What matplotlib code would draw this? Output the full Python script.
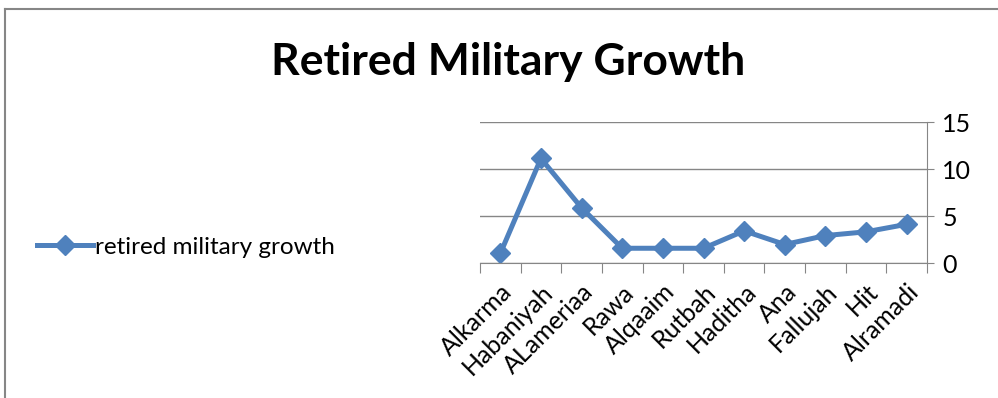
import matplotlib
matplotlib.use('Agg')
import matplotlib.pyplot as plt
from matplotlib.lines import Line2D
import numpy as np

# data
towns = ["Alkarma", "Habaniyah", "ALameriaa", "Rawa", "Alqaaim", "Rutbah",
         "Haditha", "Ana", "Fallujah", "Hit", "Alramadi"]
growth = [1.05, 11.15, 5.9, 1.6, 1.6, 1.6, 3.45, 2.0, 2.95, 3.35, 4.15]
y_ticks = [0, 5, 10, 15]

blue = "#4F81BD"
grey = "#868686"
plt.rcParams['font.family'] = ['Lato', 'DejaVu Sans']

fig = plt.figure(figsize=(9.98, 3.98), dpi=100)
ax = fig.add_axes([480/998, 1 - 263.3/398, 447/998, 141/398])

x = np.arange(len(towns))
line, = ax.plot(x, growth, color=blue, lw=3.6, marker='D', ms=10.5,
                label="retired military growth")

ax.set_xlim(-0.5, len(towns) - 0.5)
ax.set_ylim(0, 15)
ax.set_yticks(y_ticks)
ax.yaxis.tick_right()
ax.tick_params(axis='y', length=5, color=grey, labelsize=18, pad=6)
ax.grid(axis='y', color=grey, lw=1)
ax.set_axisbelow(True)

# category boundaries as tick marks
ax.set_xticks(np.arange(len(towns) + 1) - 0.5, minor=False)
ax.set_xticklabels([])
ax.set_xticks(x, minor=True)
ax.set_xticklabels(towns, minor=True, rotation=45, ha='right',
                   rotation_mode='anchor', fontsize=18)
ax.tick_params(axis='x', which='major', length=7, color=grey)
ax.tick_params(axis='x', which='minor', length=0, pad=12)

for s in ['top', 'left']:
    ax.spines[s].set_visible(False)
ax.spines['bottom'].set_color(grey)
ax.spines['right'].set_color(grey)

fig.text(0.509, 1 - 62/398, "Retired Military Growth", ha='center',
         va='center', fontsize=32, fontweight='bold')

fig.legend(handles=[line], loc='center left',
           bbox_to_anchor=(15/998, 1 - 247/398), frameon=False,
           fontsize=17.5, handlelength=2.3, handletextpad=0.1)

# outer chart border (top and left visible)
fig.add_artist(Line2D([5/998, 5/998], [0, 1 - 9/398], color=grey, lw=1.5))
fig.add_artist(Line2D([5/998, 1], [1 - 9/398, 1 - 9/398], color=grey, lw=1.5))

fig.savefig("out.png", dpi=100)
